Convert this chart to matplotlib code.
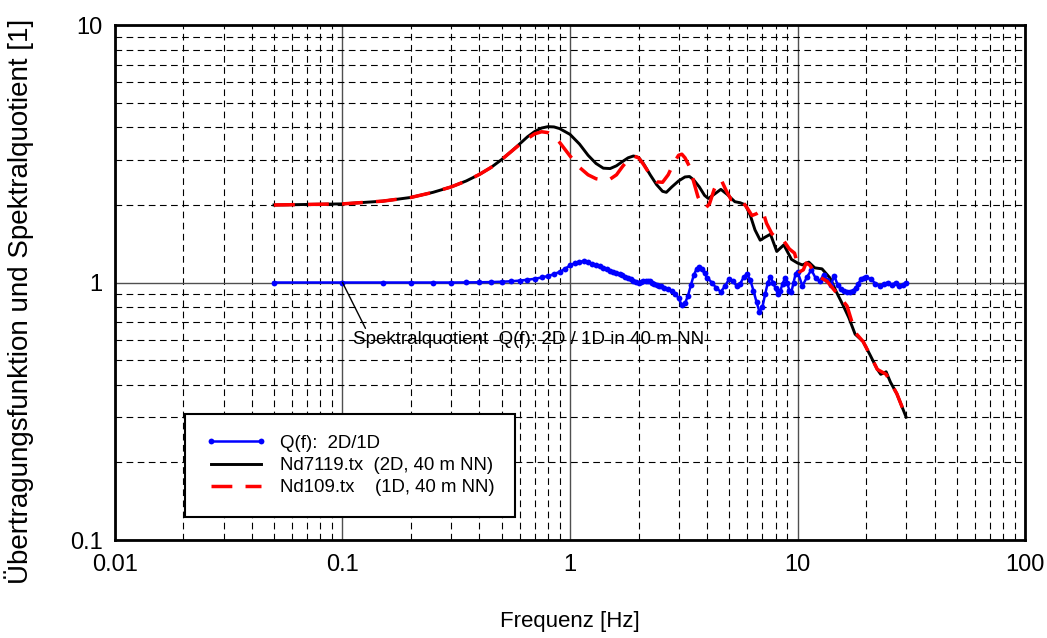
import numpy as np
import matplotlib
matplotlib.use("Agg")
import matplotlib.pyplot as plt
from matplotlib.ticker import FixedLocator, FixedFormatter, LogLocator, NullFormatter

plt.rcParams['font.family'] = ['Liberation Sans', 'DejaVu Sans']

# Q(f) 2D/1D (blue)
q_f = [0.05, 0.10, 0.15, 0.20, 0.25, 0.30, 0.35, 0.40, 0.45, 0.50,
       0.55, 0.60, 0.65, 0.70, 0.75, 0.80, 0.85, 0.90, 0.95, 1.00,
       1.05, 1.10, 1.15, 1.20, 1.25, 1.30, 1.35, 1.40, 1.45, 1.50,
       1.55, 1.60, 1.65, 1.70, 1.75, 1.80, 1.85, 1.90, 1.95, 2.00,
       2.05, 2.10, 2.15, 2.20, 2.25, 2.30, 2.35, 2.40, 2.45, 2.50,
       2.6, 2.7, 2.8, 2.9, 3.0, 3.1, 3.2, 3.3, 3.4, 3.5,
       3.6, 3.7, 3.8, 3.9, 4.0,
       4.2, 4.4, 4.6, 4.8, 5.0, 5.2, 5.4, 5.6, 5.8, 6.0,
       6.2, 6.4, 6.6, 6.8, 7.0, 7.2, 7.4, 7.6, 7.8, 8.0,
       8.2, 8.4, 8.6, 8.8, 9.0, 9.2, 9.4, 9.6, 9.8, 10.0,
       10.5, 11.0, 11.5, 12.0, 12.5, 13.0, 13.5, 14.0, 14.5, 15.0,
       15.5, 16.0, 16.5, 17.0, 17.5, 18.0, 18.5, 19.0, 19.5, 20.0,
       21, 22, 23, 24, 25, 26, 27, 28, 29, 30]
q_v = [1.0, 1.0, 1.0, 1.0, 1.0, 1.0, 1.001, 1.002, 1.004, 1.007,
       1.011, 1.017, 1.025, 1.034, 1.046, 1.06, 1.078, 1.10, 1.13, 1.165,
       1.19, 1.205, 1.21, 1.20, 1.185, 1.17, 1.155, 1.14, 1.125, 1.11,
       1.098, 1.087, 1.076, 1.065, 1.052, 1.04, 1.028, 1.016, 1.006, 1.0,
       1.004, 1.01, 1.016, 1.018, 1.012, 1.0, 0.99, 0.98, 0.972, 0.965,
       0.952, 0.94, 0.925, 0.905, 0.87, 0.815, 0.83, 0.89, 0.98, 1.07,
       1.13, 1.15, 1.125, 1.085, 1.045,
       1.0, 0.95, 0.92, 0.97, 1.03, 1.01, 0.97, 0.99, 1.05, 1.08,
       1.02, 0.93, 0.84, 0.77, 0.80, 0.90, 1.0, 1.05, 1.0, 0.95,
       0.90, 0.93, 0.99, 1.04, 1.0, 0.93, 0.92, 1.0, 1.08, 1.1,
       0.97, 1.05, 1.12, 1.04, 1.01, 1.07, 1.02, 0.98, 1.06, 0.98,
       0.94, 0.93, 0.92, 0.92, 0.93, 0.95, 0.99, 1.03, 1.04, 1.05,
       1.03, 0.99, 0.97, 0.99, 1.0, 0.98, 1.0, 0.97, 0.98, 1.0]

# Nd7119.tx (2D, black)
nd2_f = [0.05, 0.1, 0.15, 0.2, 0.25, 0.3, 0.35, 0.4, 0.45, 0.5,
         0.55, 0.6, 0.65, 0.7, 0.75, 0.8, 0.85, 0.9, 1.0, 1.1,
         1.2, 1.3, 1.4, 1.5, 1.6, 1.7, 1.8, 1.9, 2.0, 2.1,
         2.25, 2.4, 2.55, 2.65, 2.8, 3.0, 3.2, 3.35, 3.5, 3.7,
         3.9, 4.05, 4.3, 4.6, 4.9, 5.3, 5.6, 5.9, 6.2, 6.5,
         6.85, 7.2, 7.6, 8.1, 8.7, 9.4, 10.0, 10.5, 11.2, 11.9,
         12.8, 13.9, 14.8, 15.8, 16.8, 17.9, 19.4, 20.9, 22.4, 23.2,
         24.5, 25.6, 27.3, 30.0]
nd2_v = [2.0, 2.02, 2.07, 2.14, 2.24, 2.35, 2.48, 2.63, 2.8, 3.0,
         3.22, 3.45, 3.68, 3.86, 3.98, 4.03, 4.02, 3.96, 3.76, 3.45,
         3.12, 2.9, 2.78, 2.77, 2.84, 2.95, 3.05, 3.1, 3.06, 2.9,
         2.62, 2.4, 2.26, 2.24, 2.35, 2.48, 2.57, 2.58, 2.5, 2.35,
         2.18, 2.12, 2.2, 2.3, 2.2, 2.06, 2.04, 2.0, 1.82, 1.6,
         1.46, 1.5, 1.54, 1.32, 1.40, 1.23, 1.19, 1.17, 1.2, 1.14,
         1.13, 1.04, 0.92, 0.82, 0.73, 0.63, 0.59, 0.52, 0.46, 0.44,
         0.45, 0.41, 0.37, 0.3]

# Nd109.tx (1D, red)
nd1_f = [0.05, 0.1, 0.15, 0.2, 0.25, 0.3, 0.35, 0.4, 0.45, 0.5,
         0.55, 0.6, 0.65, 0.7, 0.75, 0.8, 0.85, 0.9, 1.0, 1.1,
         1.2, 1.3, 1.4, 1.5, 1.6, 1.7, 1.8, 1.9, 2.0, 2.1,
         2.25, 2.4, 2.55, 2.7, 2.85, 3.0, 3.1, 3.2, 3.35, 3.5,
         3.65, 3.8, 3.95, 4.1, 4.3, 4.5, 4.65, 4.85, 5.1, 5.4,
         5.7, 6.0, 6.3, 6.6, 7.0, 7.3, 7.7, 8.1, 8.7, 9.2,
         9.7, 10.2, 10.6, 10.9, 11.3, 12.0, 12.5, 13.5, 15.0, 16.5,
         17.9, 19.4, 20.9, 22.4, 24.5, 25.6, 27.3, 30.0]
nd1_v = [2.0, 2.02, 2.07, 2.14, 2.24, 2.35, 2.48, 2.63, 2.8, 3.0,
         3.22, 3.43, 3.62, 3.78, 3.85, 3.82, 3.7, 3.5, 3.1, 2.8,
         2.62, 2.53, 2.5, 2.52, 2.62, 2.82, 3.0, 3.1, 3.05, 2.88,
         2.62, 2.46, 2.45, 2.62, 2.9, 3.12, 3.15, 3.05, 2.82, 2.45,
         2.15, 2.0, 1.95, 2.02, 2.3, 2.5, 2.47, 2.28, 2.1, 2.1,
         2.07, 1.95, 1.82, 1.85, 1.92, 1.7, 1.55, 1.48, 1.45, 1.35,
         1.3, 1.1, 1.12, 1.19, 1.17, 1.08, 1.05, 1.01, 0.90, 0.81,
         0.64, 0.59, 0.52, 0.46, 0.44, 0.41, 0.37, 0.3]

x_ticks = [0.01, 0.1, 1, 10, 100]
x_labels = ["0.01", "0.1", "1", "10", "100"]
y_ticks = [0.1, 1, 10]
y_labels = ["0.1", "1", "10"]

fig = plt.figure(figsize=(10.47, 6.38), dpi=100)
ax = fig.add_axes([0.1098, 0.1536, 0.8693, 0.8072])

ax.plot(q_f, q_v, color="#0000ff", lw=1.8, marker="o", ms=4.2, mew=0,
        label="Q(f):  2D/1D", zorder=4)
ax.plot(nd2_f, nd2_v, color="black", lw=2.1, label="Nd7119.tx  (2D, 40 m NN)", zorder=3)
ax.plot(nd1_f, nd1_v, color="#ff0000", lw=2.5, linestyle=(0, (6, 3.8)),
        label="Nd109.tx    (1D, 40 m NN)", zorder=5)

ax.set_xscale("log")
ax.set_yscale("log")
ax.set_xlim(0.01, 100)
ax.set_ylim(0.1, 10)

ax.xaxis.set_major_locator(FixedLocator(x_ticks))
ax.xaxis.set_major_formatter(FixedFormatter(x_labels))
ax.yaxis.set_major_locator(FixedLocator(y_ticks))
ax.yaxis.set_major_formatter(FixedFormatter(y_labels))
ax.xaxis.set_minor_locator(LogLocator(base=10, subs=np.arange(2, 10)))
ax.yaxis.set_minor_locator(LogLocator(base=10, subs=np.arange(2, 10)))
ax.xaxis.set_minor_formatter(NullFormatter())
ax.yaxis.set_minor_formatter(NullFormatter())

ax.grid(which="major", color="#505050", lw=1.0, ls="-")
ax.grid(which="minor", color="black", lw=0.8, ls=(0, (6, 4)))
ax.tick_params(which="both", length=0, labelsize=17)
ax.tick_params(axis="x", pad=10)
ax.tick_params(axis="y", pad=9)
for s in ax.spines.values():
    s.set_linewidth(2.0)
    s.set_zorder(6)

ax.set_xlabel("Frequenz [Hz]", fontsize=16, va="center")
ax.xaxis.set_label_coords(0.5, -0.159)
ax.set_ylabel("Übertragungsfunktion und Spektralquotient [1]", fontsize=20, va="center")
ax.yaxis.set_label_coords(-0.105, 0.464)

ax.annotate("Spektralquotient  Q(f): 2D / 1D in 40 m NN", xy=(0.1, 1.0),
            xytext=(0.111, 0.60), fontsize=13.5, ha="left", va="center",
            arrowprops=dict(arrowstyle="-", color="black", lw=1.0,
                            shrinkA=0, shrinkB=0, relpos=(0.04, 1.0)),
            zorder=7)

leg = ax.legend(loc="lower left", bbox_to_anchor=(0.077, 0.045), borderaxespad=0,
                fontsize=13.4, numpoints=2, handlelength=3.3, handletextpad=0.7,
                labelspacing=0.28, borderpad=1.1, fancybox=False, framealpha=1,
                edgecolor="black")
leg.get_frame().set_linewidth(1.5)
leg.set_zorder(8)

fig.savefig("out.png", dpi=100)
